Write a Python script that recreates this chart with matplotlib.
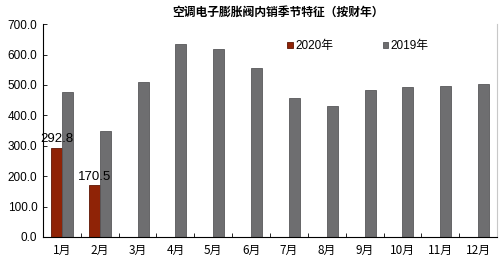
import matplotlib

matplotlib.use("Agg")
import matplotlib.pyplot as plt
import numpy as np

plt.rcParams["font.family"] = ["Noto Sans CJK SC", "DejaVu Sans"]

MONTHS = ["1月", "2月", "3月", "4月", "5月", "6月",
          "7月", "8月", "9月", "10月", "11月", "12月"]
SALES_2020 = [292.8, 170.5]
SALES_2019 = [477, 350, 509, 635, 617, 557, 458, 429, 483, 494, 497, 504]
Y_TICKS = [0, 100, 200, 300, 400, 500, 600, 700]

RED = "#8f2306"
GRAY = "#6e6e70"
LATIN = ["Liberation Sans", "DejaVu Sans"]

fig = plt.figure(figsize=(5.0, 2.65), dpi=100)
ax = fig.add_axes([0.086, 0.106, 0.908, 0.803])

x = np.arange(len(MONTHS))
w = 0.29
ax.bar(x[:len(SALES_2020)] - w / 2, SALES_2020, width=w, color=RED,
       edgecolor="#5e1503", linewidth=0.6, label="2020年")
ax.bar(x + w / 2, SALES_2019, width=w, color=GRAY,
       edgecolor="#58585a", linewidth=0.6, label="2019年")

for xi, v in zip(x, SALES_2020):
    ax.text(xi - w / 2, v + 8, f"{v:.1f}", ha="center", va="bottom",
            fontsize=9.5, family=LATIN)

ax.set_xlim(-0.5, len(MONTHS) - 0.5)
ax.set_ylim(0, 700)
ax.set_yticks(Y_TICKS)
ax.set_yticklabels([f"{t:.1f}" for t in Y_TICKS], family=LATIN, fontsize=8.5)
ax.set_xticks(x)
ax.set_xticklabels(MONTHS, fontsize=8.5)
ax.set_xticks(np.arange(-0.5, len(MONTHS)), minor=True)
ax.tick_params(axis="x", which="major", length=0, pad=5)
ax.tick_params(axis="x", which="minor", direction="in", length=3, width=0.6)
ax.tick_params(axis="y", direction="in", length=3, width=0.6, pad=4)

ax.spines["top"].set_visible(False)
ax.spines["right"].set_color("#c8c8c8")
ax.spines["left"].set_linewidth(0.8)
ax.spines["bottom"].set_linewidth(0.8)

ax.legend(loc="upper left", bbox_to_anchor=(0.515, 0.975), ncol=2,
          frameon=False, handlelength=0.45, handleheight=0.45,
          handletextpad=0.2, columnspacing=4.2,
          prop={"family": ["Liberation Sans", "Noto Sans CJK SC"], "size": 8.5})

fig.text(0.556, 0.955, "空调电子膨胀阀内销季节特征（按财年）", ha="center",
         va="center", fontsize=8.5, fontweight="bold")

fig.savefig("out.png", dpi=100)
